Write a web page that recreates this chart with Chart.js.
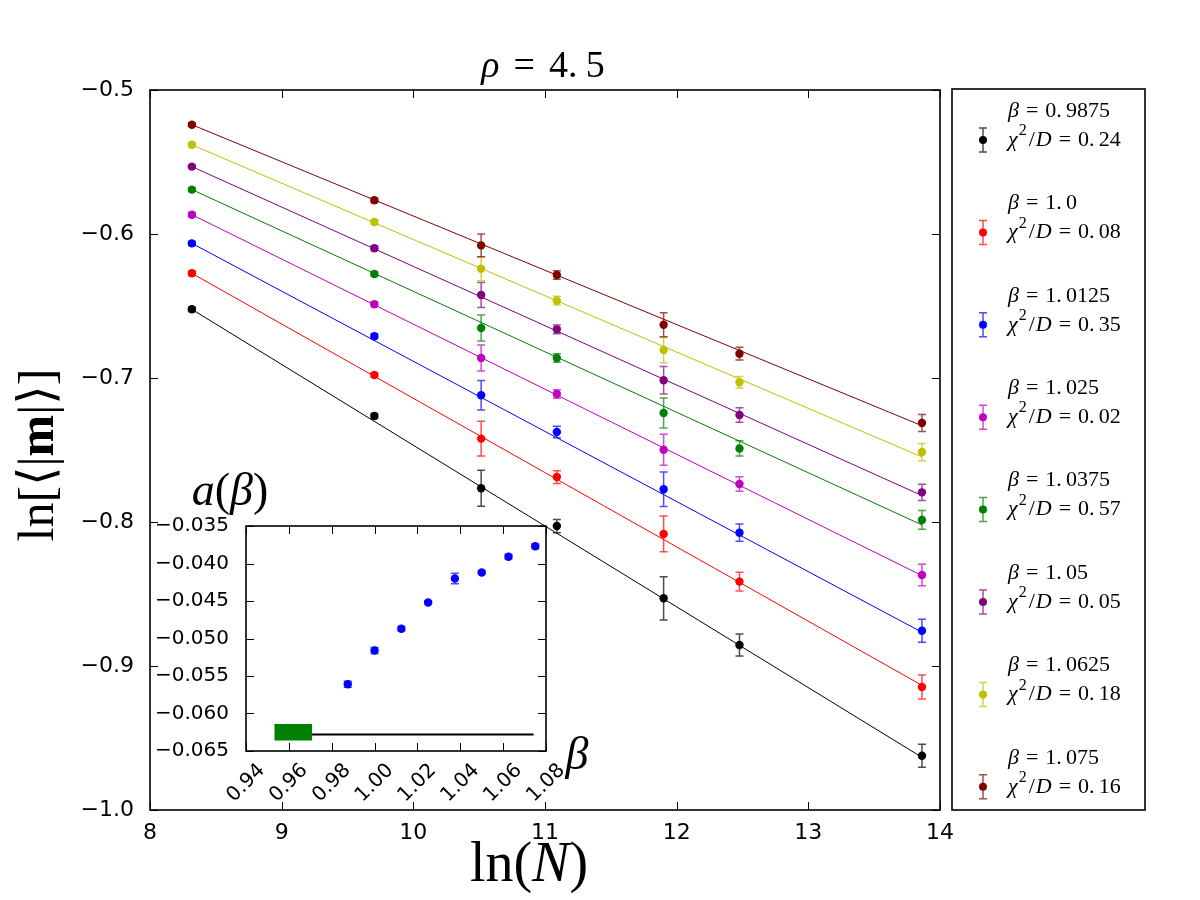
<!DOCTYPE html>
<html lang="en">
<head>
<meta charset="UTF-8">
<title>rho = 4.5</title>
<script src="https://cdn.jsdelivr.net/npm/chart.js"></script>
<style>
  body { margin: 0; background: #fff; }
  #wrap { position: relative; width: 1200px; height: 900px; }
  #mainChart { position: absolute; left: 0; top: 0; }
  #insetChart { position: absolute; left: 150px; top: 460px; }
</style>
</head>
<body>
<div id="wrap">
  <canvas id="mainChart" width="1200" height="900"></canvas>
  <canvas id="insetChart" width="460" height="350"></canvas>
</div>
<script>
// ln(N) for the lattice sizes
const lnN = [8.318, 9.704, 10.515, 11.090, 11.901, 12.477, 13.863];

const betaLabels = ['0.9875', '1.0', '1.0125', '1.025', '1.0375', '1.05', '1.0625', '1.075'];
const betaVals = [0.9875, 1.0, 1.0125, 1.025, 1.0375, 1.05, 1.0625, 1.075];
const chi2D = ['0.24', '0.08', '0.35', '0.02', '0.57', '0.05', '0.18', '0.16'];
const colors = ['#000000', '#ff0000', '#0000ff', '#bf00bf', '#008000', '#800080', '#bfbf00', '#800000'];

// ln<|m|> per beta
const lnM = [
  [-0.6523, -0.7264, -0.7766, -0.8028, -0.8530, -0.8854, -0.9623],
  [-0.6273, -0.6979, -0.7421, -0.7688, -0.8083, -0.8414, -0.9146],
  [-0.6065, -0.6710, -0.7120, -0.7375, -0.7773, -0.8074, -0.8755],
  [-0.5866, -0.6488, -0.6861, -0.7111, -0.7498, -0.7736, -0.8368],
  [-0.5692, -0.6278, -0.6653, -0.6861, -0.7243, -0.7489, -0.7986],
  [-0.5532, -0.6099, -0.6424, -0.6662, -0.7016, -0.7257, -0.7794],
  [-0.5380, -0.5917, -0.6241, -0.6463, -0.6806, -0.7030, -0.7514],
  [-0.5241, -0.5766, -0.6079, -0.6285, -0.6630, -0.6831, -0.7312]
];
const lnMErr = [
  [0.0015, 0.0018, 0.0125, 0.0046, 0.0150, 0.0076, 0.0080],
  [0.0015, 0.0015, 0.0120, 0.0044, 0.0124, 0.0065, 0.0083],
  [0.0015, 0.0015, 0.0102, 0.0040, 0.0120, 0.0060, 0.0080],
  [0.0015, 0.0015, 0.0090, 0.0030, 0.0108, 0.0050, 0.0074],
  [0.0012, 0.0015, 0.0090, 0.0030, 0.0104, 0.0053, 0.0065],
  [0.0012, 0.0015, 0.0087, 0.0030, 0.0095, 0.0050, 0.0056],
  [0.0012, 0.0015, 0.0083, 0.0030, 0.0088, 0.0040, 0.0060],
  [0.0012, 0.0015, 0.0079, 0.0030, 0.0083, 0.0044, 0.0059]
];

// fitted slope a(beta) and intercept
const aBeta = [-0.0561, -0.0516, -0.0487, -0.0452, -0.0420, -0.0412, -0.0391, -0.0377];
const aErr = [0.0004, 0.0004, 0.0003, 0.0002, 0.0007, 0.0002, 0.0003, 0.0003];
const fitB = [-0.1857, -0.1981, -0.2014, -0.2106, -0.2198, -0.2105, -0.2128, -0.2105];

// inset extras
const bandX = [0.9532, 0.9709];
const bandY = [-0.0636, -0.0614];
const refLineX = [0.9557, 1.0742];
const refLineY = -0.0628;

const SERIF = '"Liberation Serif", "DejaVu Serif", serif';
const SANS = '"DejaVu Sans", sans-serif';

// draws pieces of text one after another; g = extra gap after a piece
function drawRich(ctx, parts, x, y, align) {
  let w = 0;
  parts.forEach(p => { ctx.font = p.f; w += ctx.measureText(p.t).width + (p.g || 0); });
  let cx = align === 'center' ? x - w / 2 : x;
  parts.forEach(p => {
    ctx.font = p.f;
    ctx.fillText(p.t, cx, y + (p.dy || 0));
    cx += ctx.measureText(p.t).width + (p.g || 0);
  });
}

// "= 0.9875" the mathtext way: wide gaps round "=" and after the point
function mathEq(value, size, gap) {
  const f = size + 'px ' + SERIF;
  const dot = value.indexOf('.');
  return [
    { t: '=', f: f, g: gap },
    { t: value.slice(0, dot + 1), f: f, g: gap * 0.6 },
    { t: value.slice(dot + 1), f: f }
  ];
}

function drawTicksFrame(chart, len) {
  const ctx = chart.ctx, a = chart.chartArea;
  const sx = chart.scales.x, sy = chart.scales.y;
  ctx.save();
  ctx.strokeStyle = '#000';
  ctx.lineWidth = 1;
  ctx.beginPath();
  sx.ticks.forEach(t => {
    const px = Math.round(sx.getPixelForValue(t.value)) + 0.5;
    ctx.moveTo(px, a.bottom); ctx.lineTo(px, a.bottom - len);
    ctx.moveTo(px, a.top); ctx.lineTo(px, a.top + len);
  });
  sy.ticks.forEach(t => {
    const py = Math.round(sy.getPixelForValue(t.value)) + 0.5;
    ctx.moveTo(a.left, py); ctx.lineTo(a.left + len, py);
    ctx.moveTo(a.right, py); ctx.lineTo(a.right - len, py);
  });
  ctx.stroke();
  ctx.lineWidth = 1.6;
  ctx.strokeRect(a.left, a.top, a.right - a.left, a.bottom - a.top);
  ctx.restore();
}

const errorBars = {
  id: 'errorBars',
  beforeDatasetsDraw(chart) {
    const ctx = chart.ctx, sx = chart.scales.x, sy = chart.scales.y;
    chart.data.datasets.forEach(ds => {
      if (!ds.yErr) return;
      ctx.save();
      ctx.strokeStyle = ds.borderColor;
      ctx.globalAlpha = 0.7;
      ctx.lineWidth = 1.5;
      ds.data.forEach((p, i) => {
        const x = sx.getPixelForValue(p.x);
        const y1 = sy.getPixelForValue(p.y - ds.yErr[i]);
        const y2 = sy.getPixelForValue(p.y + ds.yErr[i]);
        ctx.beginPath();
        ctx.moveTo(x, y1); ctx.lineTo(x, y2);
        ctx.moveTo(x - 4, y1); ctx.lineTo(x + 4, y1);
        ctx.moveTo(x - 4, y2); ctx.lineTo(x + 4, y2);
        ctx.stroke();
      });
      ctx.restore();
    });
  }
};

const mainDecor = {
  id: 'mainDecor',
  afterDraw(chart) {
    const ctx = chart.ctx;
    drawTicksFrame(chart, 8);
    ctx.save();
    ctx.fillStyle = '#000';
    // title
    ctx.textBaseline = 'alphabetic';
    drawRich(ctx, [{ t: 'ρ', f: 'italic 38px ' + SERIF, g: 14 }].concat(mathEq('4.5', 38, 14)), 543, 77, 'center');
    ctx.textBaseline = 'middle';
    // x axis title
    drawRich(ctx, [
      { t: 'ln(', f: '56px ' + SERIF },
      { t: 'N', f: 'italic 56px ' + SERIF },
      { t: ')', f: '56px ' + SERIF }
    ], 529, 866, 'center');
    // y axis title
    ctx.save();
    ctx.translate(40, 455);
    ctx.rotate(-Math.PI / 2);
    drawRich(ctx, [
      { t: 'ln[⟨|', f: '50px ' + SERIF },
      { t: 'm', f: 'bold 50px ' + SERIF },
      { t: '|⟩]', f: '50px ' + SERIF }
    ], 0, 0, 'center');
    ctx.restore();

    // legend box
    ctx.lineWidth = 1.6;
    ctx.strokeStyle = '#000';
    ctx.strokeRect(952, 89, 193, 721);
    betaLabels.forEach((b, i) => {
      const yc = 140 + i * 92.4;
      const mx = 983;
      ctx.save();
      ctx.strokeStyle = colors[i];
      ctx.globalAlpha = 0.7;
      ctx.lineWidth = 1.5;
      ctx.beginPath();
      ctx.moveTo(mx, yc - 12); ctx.lineTo(mx, yc + 12);
      ctx.moveTo(mx - 4, yc - 12); ctx.lineTo(mx + 4, yc - 12);
      ctx.moveTo(mx - 4, yc + 12); ctx.lineTo(mx + 4, yc + 12);
      ctx.stroke();
      ctx.restore();
      ctx.beginPath();
      ctx.fillStyle = colors[i];
      ctx.arc(mx, yc, 4, 0, Math.PI * 2);
      ctx.fill();
      ctx.fillStyle = '#000';
      drawRich(ctx, [
        { t: 'β', f: 'italic 22px ' + SERIF, g: 7 }
      ].concat(mathEq(b, 22, 7)), 1008, yc - 29, 'left');
      drawRich(ctx, [
        { t: 'χ', f: 'italic 22px ' + SERIF, g: 1 },
        { t: '2', f: '16px ' + SERIF, dy: -9, g: 2 },
        { t: '/', f: '22px ' + SERIF, g: 1 },
        { t: 'D', f: 'italic 22px ' + SERIF, g: 7 }
      ].concat(mathEq(chi2D[i], 22, 7)), 1008, yc, 'left');
    });
    ctx.restore();
  }
};

const mainSets = [];
colors.forEach((c, i) => {
  const x0 = lnN[0], x1 = lnN[lnN.length - 1];
  mainSets.push({
    data: [{ x: x0, y: aBeta[i] * x0 + fitB[i] }, { x: x1, y: aBeta[i] * x1 + fitB[i] }],
    showLine: true, borderColor: c, borderWidth: 1, pointRadius: 0
  });
});
colors.forEach((c, i) => {
  mainSets.push({
    data: lnN.map((x, k) => ({ x: x, y: lnM[i][k] })),
    yErr: lnMErr[i],
    borderColor: c, backgroundColor: c, pointRadius: 4.2, pointBorderWidth: 0, showLine: false
  });
});

new Chart(document.getElementById('mainChart'), {
  type: 'scatter',
  data: { datasets: mainSets },
  options: {
    responsive: false,
    animation: false,
    layout: { padding: { left: 0, right: 260, top: 90, bottom: 0 } },
    plugins: { legend: { display: false }, tooltip: { enabled: false } },
    scales: {
      x: {
        type: 'linear', min: 8, max: 14,
        ticks: { stepSize: 1, color: '#000', font: { family: SANS, size: 22 }, padding: 2 },
        grid: { display: false }, border: { display: false },
        afterFit: s => { s.height = 90; }
      },
      y: {
        type: 'linear', min: -1.0, max: -0.5,
        ticks: {
          stepSize: 0.1, color: '#000', font: { family: SANS, size: 22 }, padding: 8,
          callback: v => v.toFixed(1).replace('-', '\u2212')
        },
        grid: { display: false }, border: { display: false },
        afterFit: s => { s.width = 150; }
      }
    }
  },
  plugins: [errorBars, mainDecor]
});

const insetDecor = {
  id: 'insetDecor',
  beforeDraw(chart) {
    const ctx = chart.ctx, a = chart.chartArea;
    ctx.save();
    ctx.fillStyle = '#fff';
    ctx.fillRect(a.left, a.top, a.right - a.left, a.bottom - a.top);
    ctx.restore();
  },
  afterDraw(chart) {
    const ctx = chart.ctx, a = chart.chartArea, sx = chart.scales.x;
    drawTicksFrame(chart, 8);
    ctx.save();
    ctx.fillStyle = '#000';
    ctx.font = '20px ' + SANS;
    ctx.textAlign = 'center';
    ctx.textBaseline = 'middle';
    sx.ticks.forEach(t => {
      ctx.save();
      ctx.translate(sx.getPixelForValue(t.value), a.bottom + 32);
      ctx.rotate(-Math.PI / 4);
      ctx.fillText(t.value.toFixed(2), 0, 0);
      ctx.restore();
    });
    ctx.textAlign = 'left';
    drawRich(ctx, [
      { t: 'a', f: 'italic 46px ' + SERIF },
      { t: '(', f: '46px ' + SERIF },
      { t: 'β', f: 'italic 46px ' + SERIF },
      { t: ')', f: '46px ' + SERIF }
    ], 80, 33, 'center');
    drawRich(ctx, [{ t: 'β', f: 'italic 46px ' + SERIF }], 427, 297, 'center');
    ctx.restore();
  }
};

new Chart(document.getElementById('insetChart'), {
  type: 'scatter',
  data: {
    datasets: [
      {
        data: [{ x: bandX[0], y: bandY[0] }, { x: bandX[1], y: bandY[0] }],
        showLine: true, borderWidth: 0, borderColor: '#008000', pointRadius: 0, fill: false
      },
      {
        data: [{ x: bandX[0], y: bandY[1] }, { x: bandX[1], y: bandY[1] }],
        showLine: true, borderWidth: 0, borderColor: '#008000', pointRadius: 0,
        fill: '-1', backgroundColor: '#008000'
      },
      {
        data: [{ x: refLineX[0], y: refLineY }, { x: refLineX[1], y: refLineY }],
        showLine: true, borderWidth: 2, borderColor: '#000', pointRadius: 0
      },
      {
        data: betaVals.map((b, i) => ({ x: b, y: aBeta[i] })),
        yErr: aErr,
        borderColor: '#0000ff', backgroundColor: '#0000ff', pointRadius: 4.2, pointBorderWidth: 0, showLine: false
      }
    ]
  },
  options: {
    responsive: false,
    animation: false,
    layout: { padding: { left: 0, right: 64, top: 66, bottom: 0 } },
    plugins: { legend: { display: false }, tooltip: { enabled: false } },
    scales: {
      x: {
        type: 'linear', min: 0.94, max: 1.08,
        ticks: { stepSize: 0.02, display: false },
        grid: { display: false }, border: { display: false },
        afterFit: s => { s.height = 59; }
      },
      y: {
        type: 'linear', min: -0.065, max: -0.035,
        ticks: {
          stepSize: 0.005, color: '#000', font: { family: SANS, size: 20 }, padding: 9,
          callback: v => v.toFixed(3).replace('-', '\u2212')
        },
        grid: { display: false }, border: { display: false },
        afterFit: s => { s.width = 96; }
      }
    }
  },
  plugins: [errorBars, insetDecor]
});
</script>
</body>
</html>
